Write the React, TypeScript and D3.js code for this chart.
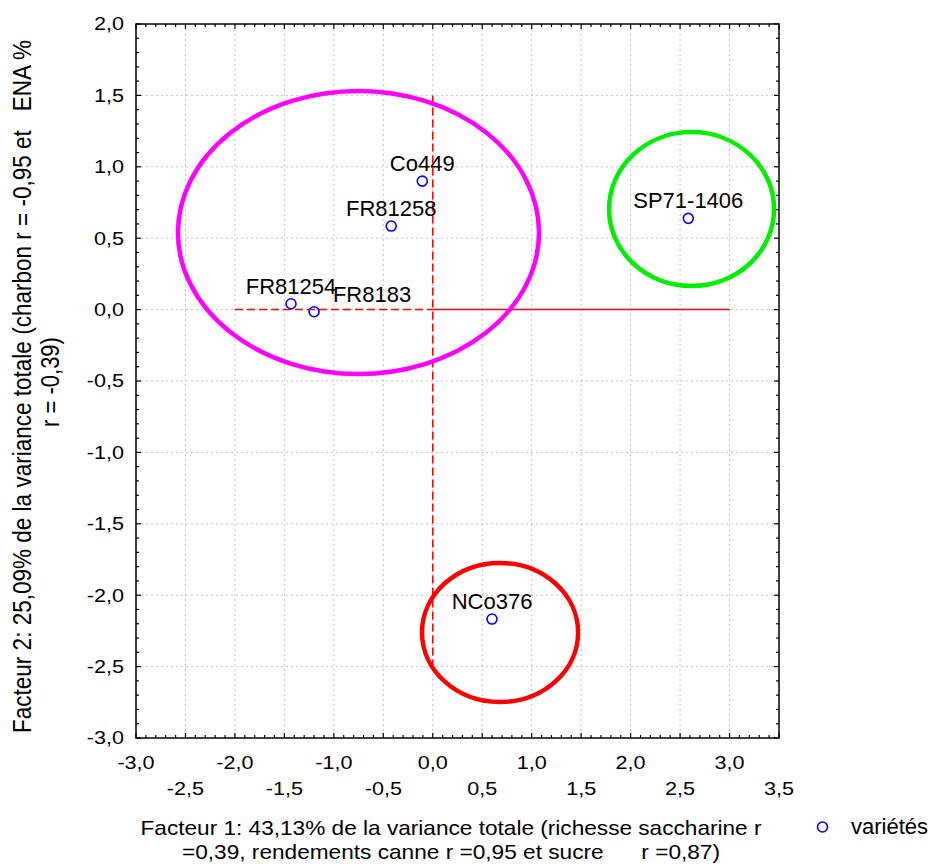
import React from "react";
import * as d3 from "d3";

const xDomain: [number, number] = [-3, 3.5];
const yDomain: [number, number] = [-3, 2];
const xTickValues = [-3, -2.5, -2, -1.5, -1, -0.5, 0, 0.5, 1, 1.5, 2, 2.5, 3, 3.5];
const yTickValues = [-3, -2.5, -2, -1.5, -1, -0.5, 0, 0.5, 1, 1.5, 2];

const varieties = ["Co449", "FR81258", "FR81254", "FR8183", "SP71-1406", "NCo376"];
const factor1 = [-0.106, -0.42, -1.433, -1.2, 2.583, 0.599];
const factor2 = [0.9, 0.585, 0.041, -0.015, 0.639, -2.167];
const labelDx = [0, 0, 0, 58, 0, 0];

const groupNames = ["groupe1", "groupe2", "groupe3"];
const groupCx = [-0.751, 2.616, 0.68];
const groupCy = [0.54, 0.704, -2.261];
const groupRx = [1.825, 0.834, 0.789];
const groupRy = [0.991, 0.539, 0.487];
const groupColors = ["#ff00ff", "#00ee00", "#ff0000"];

const xTitle1 = "Facteur 1: 43,13% de la variance totale (richesse saccharine r";
const xTitle2 = "=0,39, rendements canne r =0,95 et sucre      r =0,87)";
const yTitle1 = "Facteur 2: 25,09% de la variance totale (charbon r = -0,95 et   ENA %";
const yTitle2 = "r = -0,39)";
const legendLabel = "variétés";

const fmt = (v: number) => {
  const s = Math.abs(v).toFixed(1).replace(".", ",");
  return v < -1e-9 ? "-" + s : s;
};

export default function App() {
  const W = 933, H = 865;
  const L = 136, R = 779, T = 24, B = 738;
  const x = d3.scaleLinear().domain(xDomain).range([L, R]);
  const y = d3.scaleLinear().domain(yDomain).range([B, T]);
  const font = "'Liberation Sans', Arial, sans-serif";

  const minorX = d3.range(-30, 36).map((i) => i / 10);
  const minorY = d3.range(-30, 21).map((i) => i / 10);
  const isMajor = (v: number) => Math.abs(v * 2 - Math.round(v * 2)) < 1e-6;

  return (
    <svg width={W} height={H} style={{ position: "absolute", left: 0, top: 0, background: "#fff" }} fontFamily={font}>
      <rect x={0} y={0} width={W} height={H} fill="#fff" />
      {/* grid */}
      {xTickValues.filter((v) => v > xDomain[0] && v < xDomain[1]).map((v) => (
        <line key={"gx" + v} x1={x(v)} x2={x(v)} y1={T} y2={B} stroke="#c4c4c4" strokeWidth={1} strokeDasharray="2,3" />
      ))}
      {yTickValues.filter((v) => v > yDomain[0] && v < yDomain[1]).map((v) => (
        <line key={"gy" + v} x1={L} x2={R} y1={y(v)} y2={y(v)} stroke="#c4c4c4" strokeWidth={1} strokeDasharray="2,3" />
      ))}
      {/* reference lines */}
      <line x1={x(-2)} x2={x(0)} y1={y(0)} y2={y(0)} stroke="#ff0000" strokeWidth={1.5} strokeDasharray="8,4" />
      <line x1={x(0)} x2={x(3)} y1={y(0)} y2={y(0)} stroke="#ff0000" strokeWidth={1.5} />
      <line x1={x(0)} x2={x(0)} y1={y(1.5)} y2={y(-2.5)} stroke="#ff0000" strokeWidth={1.5} strokeDasharray="8,4" />
      {/* ellipses */}
      {groupNames.map((g, i) => (
        <ellipse key={g} cx={x(groupCx[i])} cy={y(groupCy[i])}
          rx={x(groupCx[i] + groupRx[i]) - x(groupCx[i])}
          ry={y(groupCy[i]) - y(groupCy[i] + groupRy[i])}
          fill="none" stroke={groupColors[i]} strokeWidth={4.5} />
      ))}
      {/* points */}
      {varieties.map((name, i) => (
        <g key={name}>
          <circle cx={x(factor1[i])} cy={y(factor2[i])} r={5} fill="none" stroke="#0000ff" strokeWidth={1.6} />
          <text x={x(factor1[i]) + labelDx[i]} y={y(factor2[i]) - 10} textAnchor="middle" fontSize={22} fill="#000">{name}</text>
        </g>
      ))}
      {/* frame */}
      <rect x={L} y={T} width={R - L} height={B - T} fill="none" stroke="#000" strokeWidth={1.5} />
      {/* ticks */}
      {minorX.map((v) => {
        const len = isMajor(v) ? 5 : 3;
        return (
          <g key={"tx" + v}>
            <line x1={x(v)} x2={x(v)} y1={B} y2={B - len} stroke="#000" strokeWidth={1.2} />
            <line x1={x(v)} x2={x(v)} y1={T} y2={T + len} stroke="#000" strokeWidth={1.2} />
          </g>
        );
      })}
      {minorY.map((v) => {
        const len = isMajor(v) ? 5 : 3;
        return (
          <g key={"ty" + v}>
            <line x1={L} x2={L + len} y1={y(v)} y2={y(v)} stroke="#000" strokeWidth={1.2} />
            <line x1={R} x2={R - len} y1={y(v)} y2={y(v)} stroke="#000" strokeWidth={1.2} />
          </g>
        );
      })}
      {/* tick labels */}
      {yTickValues.map((v) => (
        <text key={"yl" + v} transform={`translate(124,${y(v)}) scale(1.2,1)`} textAnchor="end" dy="0.36em" fontSize={18} fill="#000">{fmt(v)}</text>
      ))}
      {xTickValues.map((v) => {
        const row = Number.isInteger(v) ? 0 : 1;
        return (
          <text key={"xl" + v} transform={`translate(${x(v)},${row === 0 ? 769 : 795}) scale(1.2,1)`} textAnchor="middle" fontSize={18} fill="#000">{fmt(v)}</text>
        );
      })}
      {/* axis titles */}
      <text x={451} y={835} textAnchor="middle" fontSize={21} fill="#000" textLength={621} lengthAdjust="spacingAndGlyphs" style={{ whiteSpace: "pre" }}>{xTitle1}</text>
      <text x={451} y={859} textAnchor="middle" fontSize={21} fill="#000" textLength={538} lengthAdjust="spacingAndGlyphs" style={{ whiteSpace: "pre" }}>{xTitle2}</text>
      <g transform="scale(1.2,1)">
        <text transform={`translate(${31 / 1.2},386.5) rotate(-90)`} textAnchor="middle" fontSize={22} fill="#000" textLength={693} lengthAdjust="spacingAndGlyphs" style={{ whiteSpace: "pre" }}>{yTitle1}</text>
        <text transform={`translate(${59 / 1.2},382) rotate(-90)`} textAnchor="middle" fontSize={22} fill="#000" style={{ whiteSpace: "pre" }}>{yTitle2}</text>
      </g>
      {/* legend */}
      <circle cx={822.5} cy={827} r={5} fill="none" stroke="#0000ff" strokeWidth={1.6} />
      <text x={851} y={834} fontSize={22} fill="#000">{legendLabel}</text>
    </svg>
  );
}
